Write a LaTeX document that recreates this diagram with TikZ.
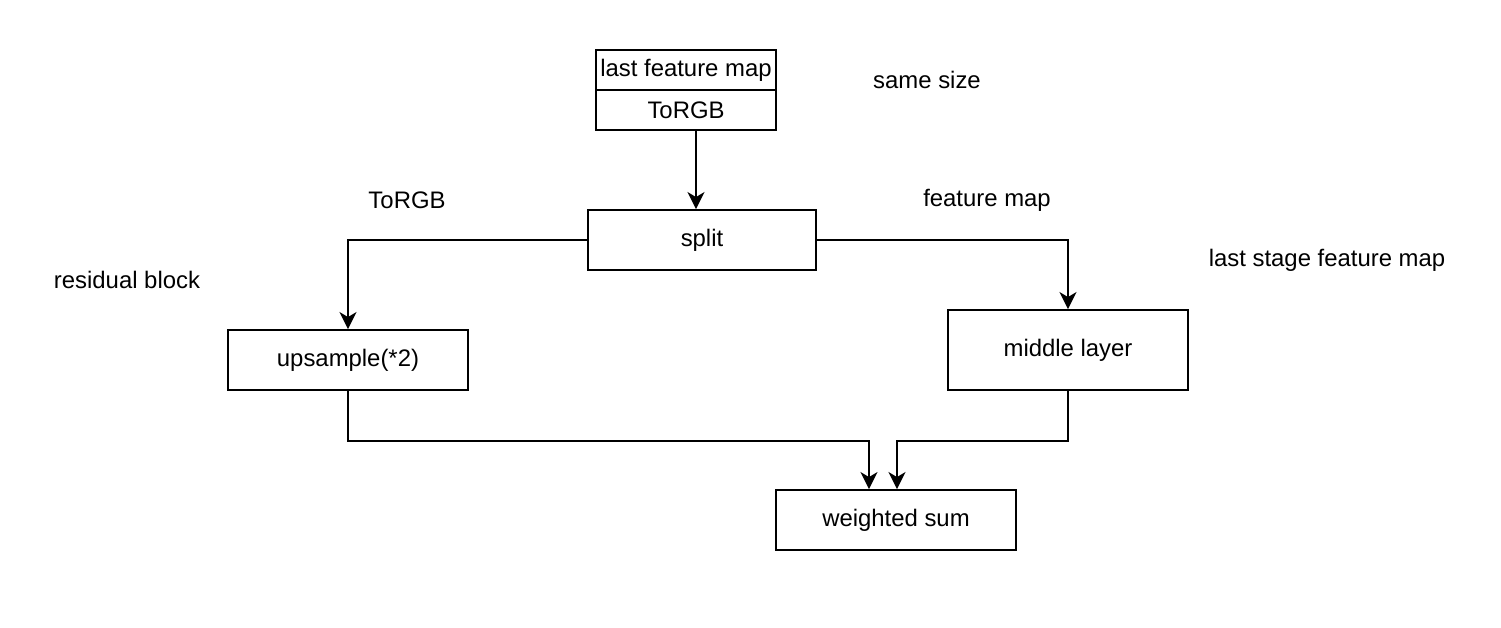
\documentclass[tikz,border=0pt]{standalone}
\usepackage{fontspec}
\setmainfont{Liberation Sans}
\usetikzlibrary{arrows.meta, positioning}

\begin{document}
\begin{tikzpicture}[x=0.02cm, y=-0.02cm, line width=1.1pt, >={Stealth[length=0.34cm, width=0.34cm, inset=0.1cm]},
    font=\fontsize{13.6pt}{16pt}\selectfont]

    \useasboundingbox (0,0) rectangle (1501,627);

    % Nodes for the top box and the split
    \node (lastmap) [draw, rectangle, text centered, minimum height=0.8cm, minimum width=3.6cm, inner sep=0pt, outer sep=0pt] at (686,70) {last feature map};
    \node (torgbtop) [draw, rectangle, text centered, minimum height=0.8cm, minimum width=3.6cm, inner sep=0pt, outer sep=0pt] at (686,110) {ToRGB};
    \node (split) [draw, rectangle, text centered, minimum height=1.2cm, minimum width=4.56cm] at (702,240) {split};

    % Nodes for the two branches and the sum
    \node (upsample) [draw, rectangle, text centered, minimum height=1.2cm, minimum width=4.8cm] at (348,360) {upsample(*2)};
    \node (middle) [draw, rectangle, text centered, minimum height=1.6cm, minimum width=4.8cm] at (1068,350) {middle layer};
    \node (sum) [draw, rectangle, text centered, minimum height=1.2cm, minimum width=4.8cm] at (896,520) {weighted sum};

    % Free labels
    \node (samesize) at (927,80) {same size};
    \node (torgblabel) at (407,200) {ToRGB};
    \node (featlabel) at (987,200) {feature map};
    \node (laststage) at (1327,260) {last stage feature map};
    \node (residual) at (127,280) {residual block};

    % Draw arrows
    \draw[->] ([xshift=0.2cm]torgbtop.south) -- ([xshift=-0.12cm]split.north);
    \draw[->] (split.west) -| (upsample.north);
    \draw[->] (split.east) -| (middle.north);
    \draw[->] (upsample.south) -- ++(0,-1cm) -| ([xshift=-0.54cm]sum.north);
    \draw[->] (middle.south) -- ++(0,-1cm) -| ([xshift=0.02cm]sum.north);

\end{tikzpicture}
\end{document}
